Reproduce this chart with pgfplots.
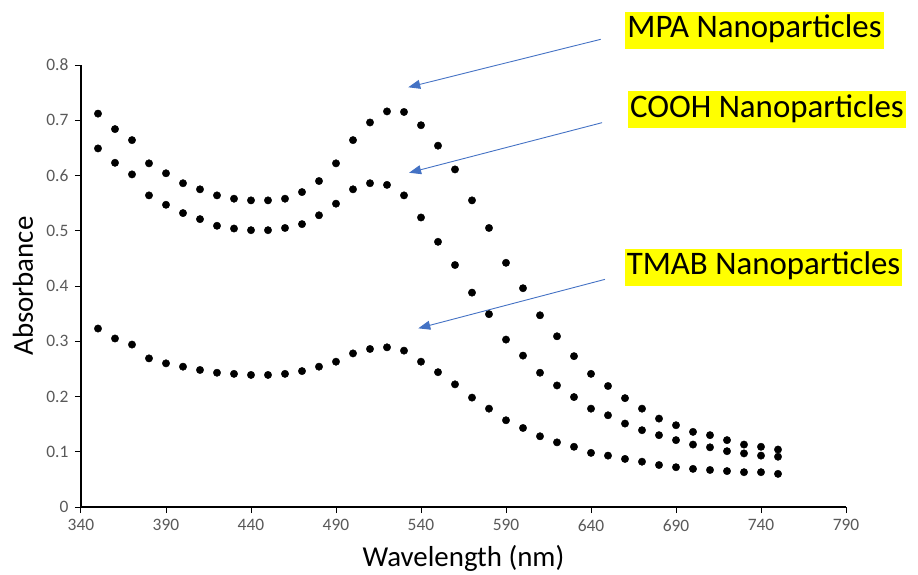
\documentclass[border=0pt]{standalone}
\usepackage{fontspec}
\setmainfont{Carlito}
\usepackage{pgfplots}
\pgfplotsset{compat=1.18}
\usetikzlibrary{arrows.meta}
\definecolor{tickgray}{RGB}{89,89,89}
\definecolor{arrowblue}{RGB}{68,114,196}
\definecolor{hilite}{RGB}{255,255,0}

\begin{document}
\begin{tikzpicture}
\useasboundingbox (-81bp,-68bp) rectangle (837bp,507bp);
\begin{axis}[
  at={(0,0)}, anchor=south west,
  scale only axis,
  width=765bp, height=442bp,
  xmin=340, xmax=790, ymin=0, ymax=0.8,
  xtick={340,390,...,790},
  ytick={0,0.1,...,0.8},
  axis x line=bottom, axis y line=left,
  axis line style={-, line width=1.4bp},
  tick style={line width=1bp, black},
  tick align=outside, major tick length=6bp,
  ticklabel style={font=\fontsize{17.5}{17.5}\selectfont, text=tickgray},
  /pgf/number format/assume math mode=true,
  yticklabel style={/pgf/number format/.cd, fixed, precision=1, /tikz/.cd, xshift=-3bp},
  xticklabel style={/pgf/number format/.cd, set thousands separator={}, /tikz/.cd, yshift=-3bp},
  xlabel={Wavelength (nm)},
  ylabel={Absorbance},
  label style={font=\fontsize{29}{29}\selectfont},
  xlabel style={at={([yshift=-59bp]axis description cs:0.5,0)}, anchor=base},
  ylabel style={at={([xshift=-48bp]axis description cs:0,0.5)}, anchor=base, rotate=0},
  clip=false,
]
% MPA
\addplot[only marks, mark=*, mark size=3.7bp, black] coordinates {
(350,0.712) (360,0.684) (370,0.664) (380,0.622) (390,0.604) (400,0.586) (410,0.575)
(420,0.564) (430,0.558) (440,0.555) (450,0.555) (460,0.558) (470,0.570) (480,0.590)
(490,0.622) (500,0.664) (510,0.696) (520,0.716) (530,0.715) (540,0.691) (550,0.654)
(560,0.611) (570,0.555) (580,0.505) (590,0.442) (600,0.396) (610,0.347) (620,0.309)
(630,0.273) (640,0.241) (650,0.219) (660,0.197) (670,0.178) (680,0.160) (690,0.148)
(700,0.136) (710,0.130) (720,0.121) (730,0.113) (740,0.109) (750,0.104)
};
% COOH
\addplot[only marks, mark=*, mark size=3.7bp, black] coordinates {
(350,0.649) (360,0.623) (370,0.602) (380,0.564) (390,0.547) (400,0.532) (410,0.521)
(420,0.509) (430,0.504) (440,0.501) (450,0.501) (460,0.505) (470,0.512) (480,0.528)
(490,0.549) (500,0.575) (510,0.586) (520,0.583) (530,0.564) (540,0.524) (550,0.480)
(560,0.438) (570,0.388) (580,0.349) (590,0.303) (600,0.274) (610,0.243) (620,0.220)
(630,0.199) (640,0.178) (650,0.166) (660,0.151) (670,0.139) (680,0.130) (690,0.121)
(700,0.113) (710,0.108) (720,0.101) (730,0.097) (740,0.093) (750,0.091)
};
% TMAB
\addplot[only marks, mark=*, mark size=3.7bp, black] coordinates {
(350,0.323) (360,0.305) (370,0.294) (380,0.269) (390,0.260) (400,0.254) (410,0.248)
(420,0.243) (430,0.241) (440,0.239) (450,0.239) (460,0.241) (470,0.246) (480,0.254)
(490,0.263) (500,0.278) (510,0.286) (520,0.289) (530,0.283) (540,0.263) (550,0.244)
(560,0.222) (570,0.198) (580,0.178) (590,0.157) (600,0.143) (610,0.128) (620,0.117)
(630,0.109) (640,0.098) (650,0.093) (660,0.087) (670,0.082) (680,0.076) (690,0.072)
(700,0.069) (710,0.067) (720,0.065) (730,0.063) (740,0.063) (750,0.060)
};

% annotations
\tikzset{lab/.style={fill=hilite, font=\fontsize{33}{33}\selectfont, inner xsep=2bp, inner ysep=4bp, text height=22bp, text depth=7bp},
         arr/.style={arrowblue, line width=0.9bp, -{Triangle[length=12bp,width=9bp]}}}
\draw[arr] (axis cs:645.7,0.8465) -- (axis cs:532.5,0.7597);
\draw[arr] (axis cs:646.5,0.6956) -- (axis cs:533,0.605);
\draw[arr] (axis cs:648.2,0.412) -- (axis cs:538.4,0.3234);
\node[lab] at (axis cs:736.2,0.863) {MPA Nanoparticles};
\node[lab] at (axis cs:743.5,0.7186) {COOH Nanoparticles};
\node[lab] at (axis cs:741.5,0.4335) {TMAB Nanoparticles};
\end{axis}
\end{tikzpicture}
\end{document}
